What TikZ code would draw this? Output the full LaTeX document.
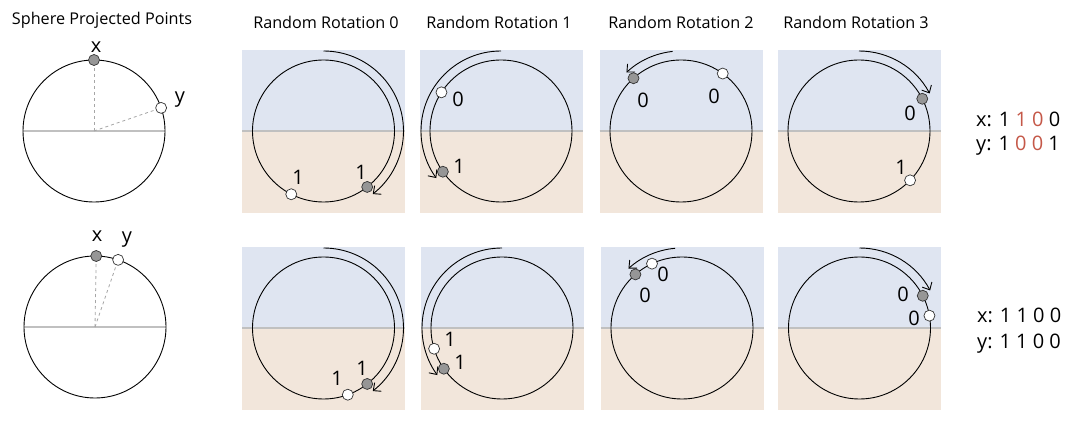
\documentclass[tikz,border=0pt]{standalone}
\usepackage{fontspec}
\setmainfont{Open Sans}
\usetikzlibrary{arrows.meta}
\definecolor{skyc}{RGB}{223,229,241}
\definecolor{sandc}{RGB}{242,230,219}
\definecolor{dotgray}{RGB}{150,150,150}
\definecolor{bitred}{RGB}{197,88,72}
\definecolor{eqgray}{RGB}{192,192,192}
\tikzset{
 ring/.style={draw=black, line width=0.9pt},
 equator/.style={draw=eqgray, line width=1.2pt},
 dotx/.style={circle, draw=black!80, fill=dotgray, inner sep=0pt, minimum size=11pt, line width=0.7pt},
 doty/.style={dotx, fill=white},
 lbl/.style={font=\fontsize{20}{24}\selectfont, inner sep=0pt, text depth=0pt},
 ttl/.style={font=\fontsize{16.2}{19}\selectfont, inner sep=0pt},
 rot/.style={draw=black, line width=0.9pt, -{Straight Barb[length=6pt,width=11pt]}},
 ray/.style={draw=black!35, dashed, line width=0.8pt},
}
\newcommand\rrbox[3]{%
  \fill[skyc] (#2-81.5,#3-81) rectangle (#2+81.5,#3);
  \fill[sandc] (#2-81.5,#3) rectangle (#2+81.5,#3+82);
  \draw[equator] (#2-81.5,#3) -- (#2+81.5,#3);
  \coordinate (#1) at (#2,#3);
  \draw[ring] (#1) circle[radius=71pt];
}
\begin{document}
\begin{tikzpicture}[x=1pt,y=-1pt]
\useasboundingbox[fill=white] (0,0) rectangle (1080,427);

% titles
\node[ttl] (t0) at (102,20) {Sphere Projected Points};
\node[ttl] (t1) at (326,22) {Random Rotation 0};
\node[ttl] (t2) at (499,22) {Random Rotation 1};
\node[ttl] (t3) at (681,22) {Random Rotation 2};
\node[ttl] (t4) at (856,22) {Random Rotation 3};

% ---------- left sphere, top
\coordinate (sa) at (94,131);
\draw[equator] (23,131) -- (165,131);
\draw[ring] (sa) circle[radius=71pt];
\node[dotx] (sax) at ([shift={(90:71pt)}]sa) {};
\node[doty] (say) at ([shift={(19:71pt)}]sa) {};
\draw[ray] (sa) -- (sax);
\draw[ray] (sa) -- (say);
\node[lbl] (saxl) at (96,47) {x};
\node[lbl] (sayl) at (180,97) {y};

% ---------- left sphere, bottom
\coordinate (sb) at (95,327);
\draw[equator] (24,327) -- (166,327);
\draw[ring] (sb) circle[radius=71pt];
\node[dotx] (sbx) at ([shift={(89:71pt)}]sb) {};
\node[doty] (sby) at ([shift={(71:71pt)}]sb) {};
\draw[ray] (sb) -- (sbx);
\draw[ray] (sb) -- (sby);
\node[lbl] (sbxl) at (97,236) {x};
\node[lbl] (sbyl) at (127,237) {y};

% ---------- top row
\rrbox{a0}{323.5}{131}
\node[doty] (a0y) at ([shift={(243:71pt)}]a0) {};
\node[dotx] (a0x) at ([shift={(308:71pt)}]a0) {};
\node[lbl] (a0yl) at (298,177) {1};
\node[lbl] (a0xl) at (361,172) {1};
\draw[rot] ([shift={(90:80pt)}]a0) arc[start angle=90, end angle=-52, radius=80pt];

\rrbox{a1}{501}{131}
\node[doty] (a1y) at ([shift={(147:71pt)}]a1) {};
\node[dotx] (a1x) at ([shift={(215:71pt)}]a1) {};
\node[lbl] (a1yl) at (458,99) {0};
\node[lbl] (a1xl) at (459,166) {1};
\draw[rot] ([shift={(90:80pt)}]a1) arc[start angle=90, end angle=216, radius=80pt];

\rrbox{a2}{681}{131}
\node[dotx] (a2x) at ([shift={(132:71pt)}]a2) {};
\node[doty] (a2y) at ([shift={(54:71pt)}]a2) {};
\node[lbl] (a2xl) at (643,100) {0};
\node[lbl] (a2yl) at (714,96) {0};
\draw[rot] ([shift={(96:80pt)}]a2) arc[start angle=96, end angle=133, radius=80pt];

\rrbox{a3}{859}{131}
\node[dotx] (a3x) at ([shift={(27:71pt)}]a3) {};
\node[doty] (a3y) at ([shift={(-44:71pt)}]a3) {};
\node[lbl] (a3xl) at (910,113) {0};
\node[lbl] (a3yl) at (901,167) {1};
\draw[rot] ([shift={(90:80pt)}]a3) arc[start angle=90, end angle=28, radius=80pt];

% ---------- bottom row
\rrbox{b0}{323.5}{328}
\node[doty] (b0y) at ([shift={(-70:71pt)}]b0) {};
\node[dotx] (b0x) at ([shift={(-52:71pt)}]b0) {};
\node[lbl] (b0yl) at (337,378) {1};
\node[lbl] (b0xl) at (362,368) {1};
\draw[rot] ([shift={(90:80pt)}]b0) arc[start angle=90, end angle=-52, radius=80pt];

\rrbox{b1}{502}{328}
\node[doty] (b1y) at ([shift={(197:71pt)}]b1) {};
\node[dotx] (b1x) at ([shift={(215:71pt)}]b1) {};
\node[lbl] (b1yl) at (450,339) {1};
\node[lbl] (b1xl) at (460,362) {1};
\draw[rot] ([shift={(90:80pt)}]b1) arc[start angle=90, end angle=216, radius=80pt];

\rrbox{b2}{682}{328}
\node[dotx] (b2x) at ([shift={(131:71pt)}]b2) {};
\node[doty] (b2y) at ([shift={(115:71pt)}]b2) {};
\node[lbl] (b2xl) at (645,295) {0};
\node[lbl] (b2yl) at (663,274) {0};
\draw[rot] ([shift={(95:80pt)}]b2) arc[start angle=95, end angle=132, radius=80pt];

\rrbox{b3}{859.5}{328}
\node[dotx] (b3x) at ([shift={(27:71pt)}]b3) {};
\node[doty] (b3y) at ([shift={(10:71pt)}]b3) {};
\node[lbl] (b3xl) at (903,294) {0};
\node[lbl] (b3yl) at (914,318) {0};
\draw[rot] ([shift={(90:80pt)}]b3) arc[start angle=90, end angle=28, radius=80pt];

% ---------- codes
\node[lbl, anchor=west] (ca) at (976,119) {x: 1 \textcolor{bitred}{1 0} 0};
\node[lbl, anchor=west] (cb) at (976,143) {y: 1 \textcolor{bitred}{0 0} 1};
\node[lbl, anchor=west] (cc) at (977,315) {x: 1 1 0 0};
\node[lbl, anchor=west] (cd) at (977,341) {y: 1 1 0 0};
\end{tikzpicture}
\end{document}
